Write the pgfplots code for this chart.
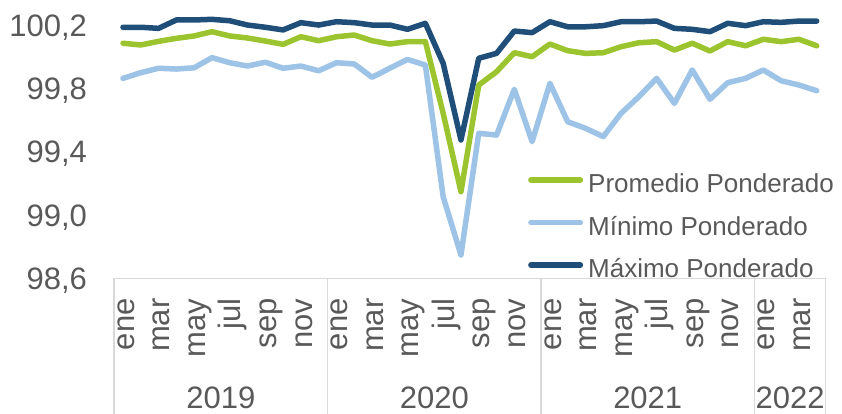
\documentclass[border=0pt]{standalone}
\usepackage{pgfplots}
\pgfplotsset{compat=1.18}
\usepackage{fontspec}
\setmainfont{Liberation Sans}
\definecolor{cgreen}{HTML}{9CC42F}
\definecolor{clight}{HTML}{9DC3E6}
\definecolor{cdark}{HTML}{1F4E79}
\definecolor{ctext}{HTML}{595959}
\definecolor{cgrid}{HTML}{D9D9D9}

\pgfplotstableread{
i promedio minimo maximo
0 100.085 99.863 100.186
1 100.074 99.899 100.186
2 100.097 99.927 100.179
3 100.116 99.922 100.232
4 100.131 99.930 100.232
5 100.158 99.994 100.236
6 100.131 99.962 100.227
7 100.118 99.941 100.200
8 100.099 99.965 100.186
9 100.078 99.927 100.169
10 100.126 99.941 100.215
11 100.101 99.911 100.200
12 100.126 99.962 100.221
13 100.137 99.954 100.215
14 100.101 99.870 100.200
15 100.080 99.927 100.200
16 100.095 99.983 100.173
17 100.095 99.947 100.211
18 99.642 99.115 99.958
19 99.147 98.747 99.474
20 99.821 99.516 99.990
21 99.905 99.505 100.021
22 100.025 99.794 100.162
23 100.000 99.463 100.152
24 100.080 99.832 100.221
25 100.038 99.589 100.189
26 100.021 99.548 100.189
27 100.025 99.495 100.196
28 100.063 99.642 100.221
29 100.088 99.747 100.221
30 100.095 99.863 100.225
31 100.042 99.705 100.179
32 100.085 99.916 100.173
33 100.036 99.731 100.158
34 100.095 99.836 100.211
35 100.069 99.863 100.196
36 100.110 99.916 100.221
37 100.095 99.848 100.217
38 100.110 99.821 100.225
39 100.069 99.785 100.225
}\datatable

\begin{document}
\begin{tikzpicture}[x=1pt,y=1pt]
\begin{axis}[
  at={(114.1pt,135.7pt)}, anchor=south west,
  scale only axis, width=711.5pt, height=277pt,
  xmin=-0.5, xmax=39.5, ymin=98.6, ymax=100.35,
  axis line style={draw=none},
  clip=false,
  major tick length=0pt,
  tick style={draw=none},
  ytick={98.6,99.0,99.4,99.8,100.2},
  yticklabel style={/pgf/number format/use comma, /pgf/number format/fixed,
    /pgf/number format/fixed zerofill, /pgf/number format/precision=1,
    /pgf/number format/assume math mode=true,
    font=\fontsize{31}{36}\selectfont, text=ctext, anchor=east,
    inner xsep=27pt, inner ysep=0pt, text height=22.2pt, text depth=0pt},
  xtick={0,2,...,38},
  xticklabels={ene,mar,may,jul,sep,nov,ene,mar,may,jul,sep,nov,ene,mar,may,jul,sep,nov,ene,mar},
  xticklabel style={font=\fontsize{31}{36}\selectfont, text=ctext, xshift=0.5pt, rotate=90, anchor=east,
    inner xsep=20pt, inner ysep=0pt, text height=28pt, text depth=6.6pt},
  legend cell align=left,
  legend style={at={(0.5817,0.3773)}, anchor=north west, draw=none, fill=none,
    inner sep=0pt, row sep=17.5pt, column sep=5pt,
    font=\fontsize{26}{30}\selectfont, text=ctext,
    nodes={inner sep=0pt, text height=19pt, text depth=6pt}},
  legend image code/.code={\draw[#1, line width=5.5pt] (0pt,6.5pt) -- (49.5pt,6.5pt);},
  every axis plot/.append style={line width=5.5pt, line join=round, line cap=round, no marks},
]
\draw[cgrid, line width=1.5pt] (axis cs:-0.5,98.6) -- (axis cs:39.5,98.6);
\draw[cgrid, line width=1.5pt] (axis cs:-0.5,98.6) -- ++(0pt,-136pt);
\draw[cgrid, line width=1.5pt] (axis cs:11.5,98.6) -- ++(0pt,-136pt);
\draw[cgrid, line width=1.5pt] (axis cs:23.5,98.6) -- ++(0pt,-136pt);
\draw[cgrid, line width=1.5pt] (axis cs:35.5,98.6) -- ++(0pt,-136pt);
\draw[cgrid, line width=1.5pt] (axis cs:39.5,98.6) -- ++(0pt,-136pt);
\node[font=\fontsize{31}{36}\selectfont, text=ctext, inner sep=0pt] at ([yshift=-120pt]axis cs:5.5,98.6) {2019};
\node[font=\fontsize{31}{36}\selectfont, text=ctext, inner sep=0pt] at ([yshift=-120pt]axis cs:17.5,98.6) {2020};
\node[font=\fontsize{31}{36}\selectfont, text=ctext, inner sep=0pt] at ([yshift=-120pt]axis cs:29.5,98.6) {2021};
\node[font=\fontsize{31}{36}\selectfont, text=ctext, inner sep=0pt] at ([yshift=-120pt]axis cs:37.5,98.6) {2022};
\addplot[cgreen] table[x=i, y=promedio] {\datatable};
\addlegendentry{Promedio Ponderado}
\addplot[clight] table[x=i, y=minimo] {\datatable};
\addlegendentry{Mínimo Ponderado}
\addplot[cdark] table[x=i, y=maximo] {\datatable};
\addlegendentry{Máximo Ponderado}
\end{axis}
\pgfresetboundingbox
\path[use as bounding box] (0,0) rectangle (842,414);
\end{tikzpicture}
\end{document}
